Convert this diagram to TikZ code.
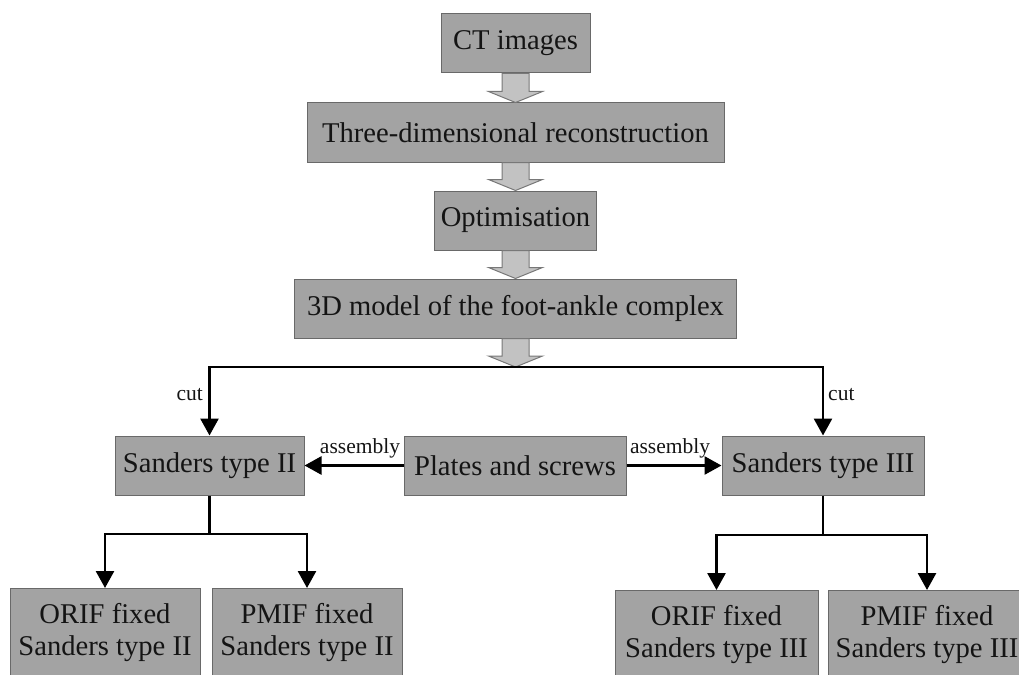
\documentclass[tikz,border=0pt]{standalone}
\usepackage{fontspec}
\setmainfont{Liberation Serif}
\usetikzlibrary{arrows.meta,calc}

\definecolor{boxfill}{RGB}{163,163,163}
\definecolor{boxline}{RGB}{105,105,105}
\definecolor{hollowfill}{RGB}{194,194,194}
\definecolor{hollowline}{RGB}{120,120,120}
\definecolor{ink}{RGB}{20,20,20}

% wide grey block arrow pointing down from one anchor to another
\newcommand\blockdown[2]{%
  \filldraw[hollow] let \p1=(#1), \p2=(#2) in
    (\x1-13.5pt,\y1) -- (\x1+13.5pt,\y1) -- (\x1+13.5pt,\y2+11pt)
    -- (\x1+27pt,\y2+11pt) -- (\x1,\y2) -- (\x1-27pt,\y2+11pt)
    -- (\x1-13.5pt,\y2+11pt) -- cycle;}

\begin{document}
\begin{tikzpicture}[x=1pt,y=-1pt,
  box/.style={draw=boxline, fill=boxfill, line width=1pt, inner sep=0pt,
    minimum height=59pt, text=ink, align=center,
    font=\fontsize{28.6}{32}\selectfont},
  hollow/.style={fill=hollowfill, draw=hollowline, line width=1pt, line join=miter},
  link/.style={line width=2.7pt, draw=black, line join=miter,
    -{Triangle[width=18pt,length=17pt]}},
  plain/.style={line width=2.7pt, draw=black},
  lbl/.style={font=\fontsize{21.5}{24}\selectfont, text=ink, inner sep=0pt}]
\useasboundingbox (0,0) rectangle (1019,674);
\clip (0,0) rectangle (1019,674);

% main pipeline
\node[box, minimum width=149pt] (ct)    at (515.5,43.5)  {CT images};
\node[box, minimum width=417pt] (three) at (515.5,132.5) {Three-dimensional reconstruction};
\node[box, minimum width=162pt] (opt)   at (515.5,220.5) {Optimisation};
\node[box, minimum width=442pt] (model) at (515.5,308.5) {3D model of the foot-ankle complex};
\coordinate (split) at (515.5,367);

% fracture models and implants
\node[box, minimum width=189pt] (s2)     at (209.5,465.5) {Sanders type II};
\node[box, minimum width=222pt] (plates) at (515,465.5)   {Plates and screws};
\node[box, minimum width=202pt] (s3)     at (823,465.5)   {Sanders type III};

% fixation models
\node[box, anchor=north, minimum width=190pt, minimum height=88pt] (orif2) at (105,588)   {ORIF fixed\\Sanders type II};
\node[box, anchor=north, minimum width=190pt, minimum height=88pt] (pmif2) at (307,588)   {PMIF fixed\\Sanders type II};
\node[box, anchor=north, minimum width=203pt, minimum height=88pt] (orif3) at (716.5,590) {ORIF fixed\\Sanders type III};
\node[box, anchor=north, minimum width=198pt, minimum height=88pt] (pmif3) at (927,590)   {PMIF fixed\\Sanders type III};

% block arrows of the pipeline
\blockdown{ct.south}{three.north}
\blockdown{three.south}{opt.north}
\blockdown{opt.south}{model.north}
\blockdown{model.south}{split}

% cutting into the two fracture types
\draw[link] (split) -| (s2.north);
\draw[link] (split) -| (s3.north);
\node[lbl, anchor=base east] (cutL) at (203,400) {cut};
\node[lbl, anchor=base west] (cutR) at (828,400) {cut};

% assembly of the implants
\draw[link] (plates.west) -- (s2.east);
\draw[link] (plates.east) -- (s3.west);
\node[lbl, anchor=base] (asmL) at (360,453) {assembly};
\node[lbl, anchor=base] (asmR) at (670,453) {assembly};

% branches to the fixation models
\coordinate (b2) at (209.5,534);
\coordinate (b3) at (823,535);
\draw[plain] (s2.south) -- (b2);
\draw[link] (b2) -| (orif2.north);
\draw[link] (b2) -| (pmif2.north);
\draw[plain] (s3.south) -- (b3);
\draw[link] (b3) -| (orif3.north);
\draw[link] (b3) -| (pmif3.north);
\end{tikzpicture}
\end{document}
